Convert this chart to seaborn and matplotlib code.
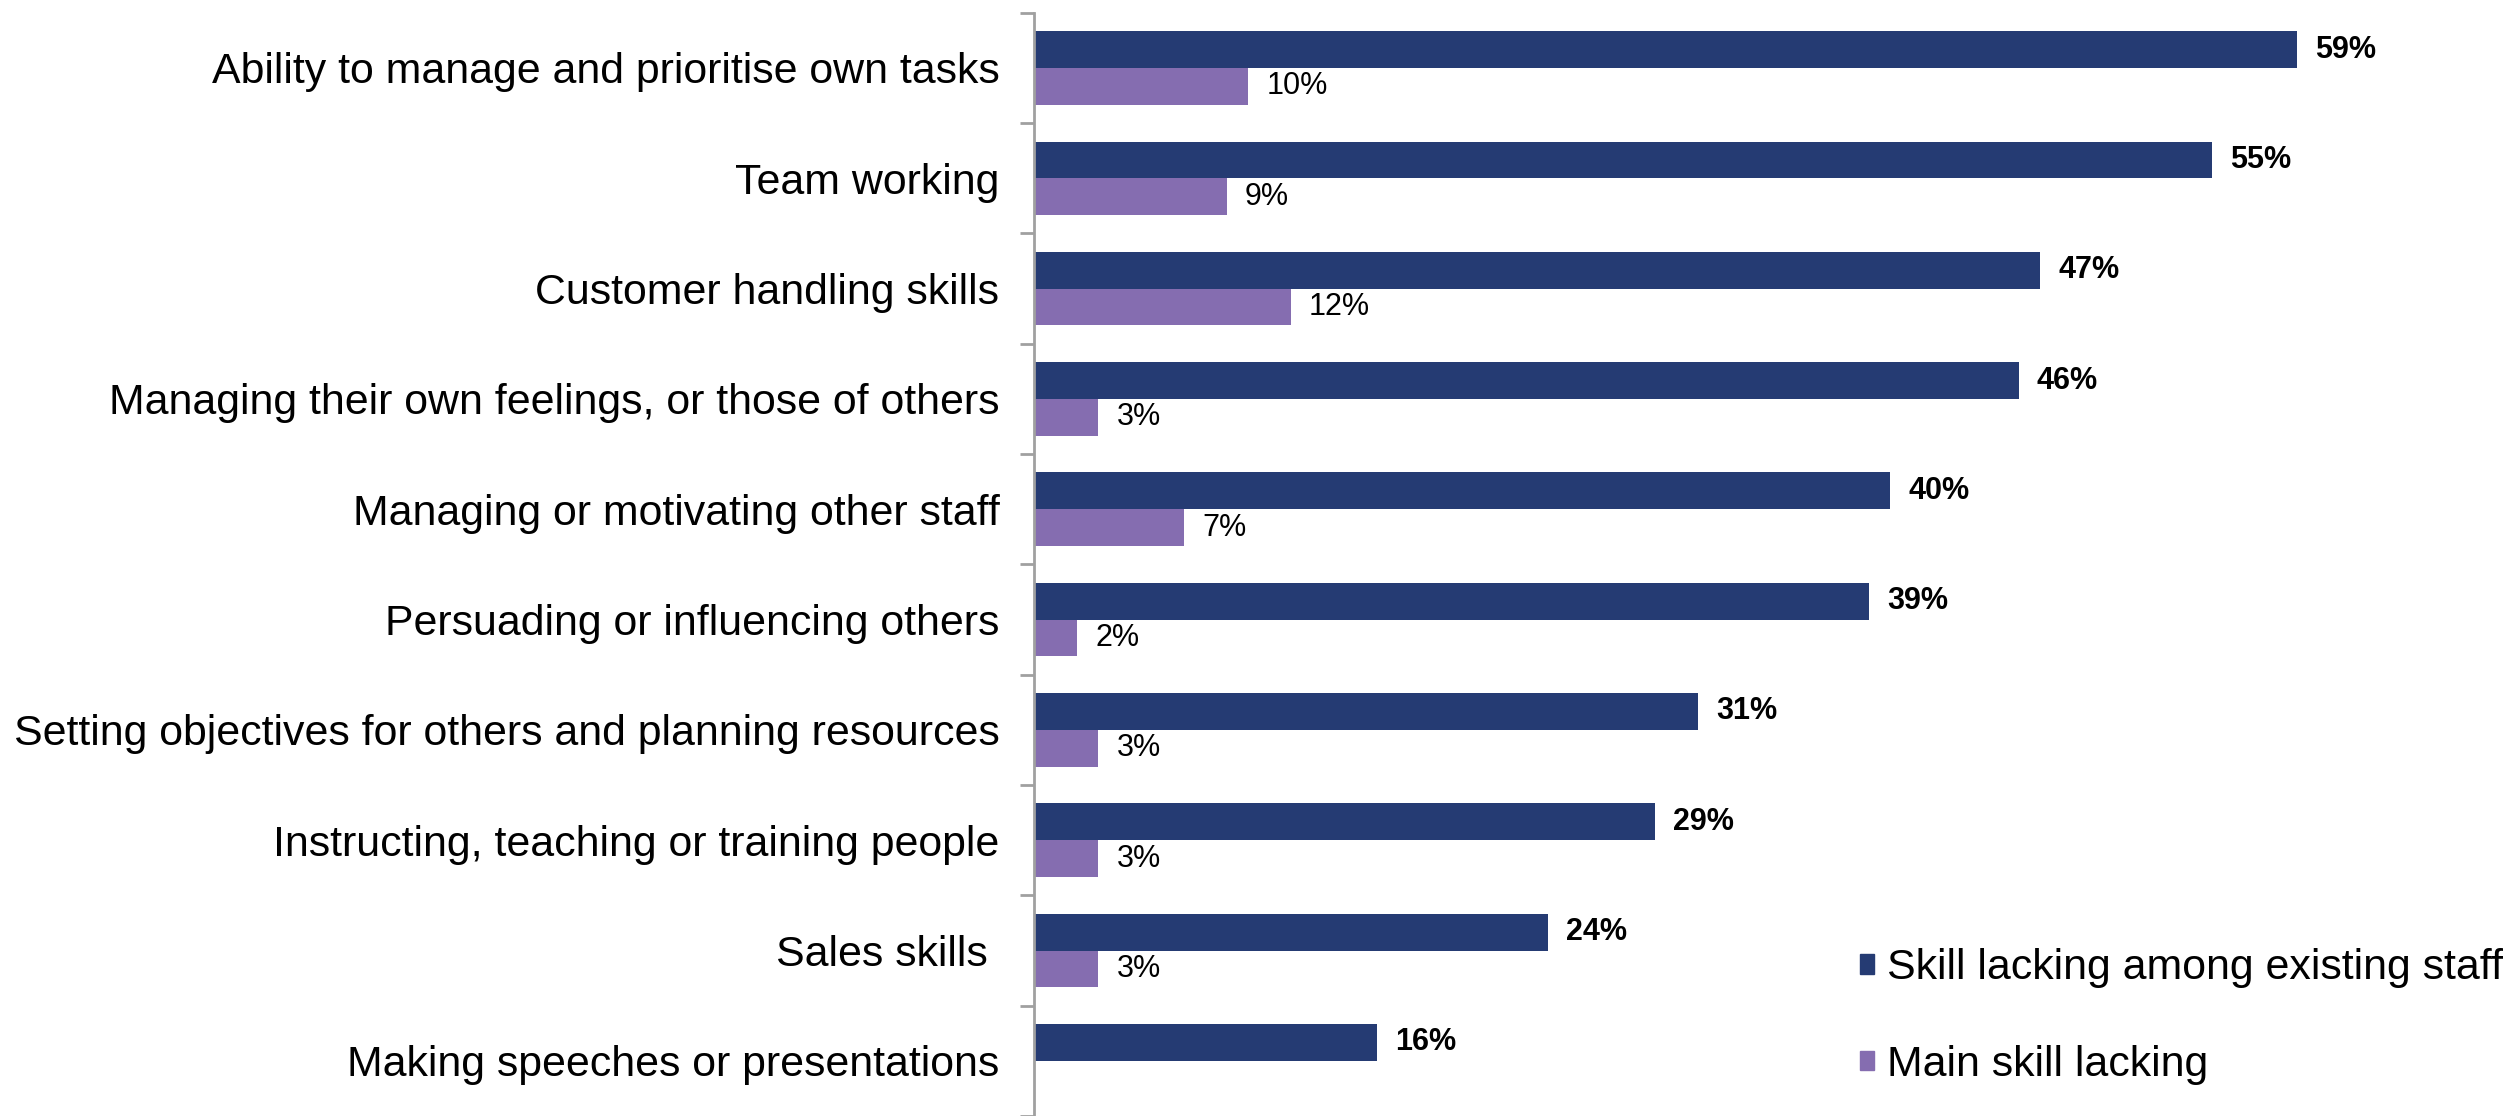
import numpy as np
import pandas as pd
import matplotlib
matplotlib.use('Agg')
import matplotlib.pyplot as plt
import seaborn as sns

# dados
skills = [
    'Ability to manage and prioritise own tasks',
    'Team working',
    'Customer handling skills',
    'Managing their own feelings, or those of others',
    'Managing or motivating other staff',
    'Persuading or influencing others',
    'Setting objectives for others and planning resources',
    'Instructing, teaching or training people',
    'Sales skills ',
    'Making speeches or presentations',
]
lacking_existing = [59, 55, 47, 46, 40, 39, 31, 29, 24, 16]
main_lacking = [10, 9, 12, 3, 7, 2, 3, 3, 3, np.nan]
series = ['Skill lacking among existing staff', 'Main skill lacking']
colors = ['#253B73', '#856DB0']

df = pd.DataFrame({
    'Skill': skills * 2,
    'Value': lacking_existing + main_lacking,
    'Series': [series[0]] * len(skills) + [series[1]] * len(skills),
})

sns.set_theme(style='white')
plt.rcParams['font.family'] = ['Liberation Sans', 'DejaVu Sans']

fig = plt.figure(figsize=(25.07, 11.16), dpi=100)
ax = fig.add_axes([0.4125, 0.0, 0.5875, 0.9885])

sns.barplot(data=df, y='Skill', x='Value', hue='Series', order=skills,
            hue_order=series, palette=colors, orient='h', width=0.667,
            linewidth=0, saturation=1, ax=ax)

ax.set_xlim(0, 68.8)
ax.set_ylim(len(skills) - 0.5, -0.5)

# rótulos de valor
ax.bar_label(ax.containers[0], fmt='%.0f%%', padding=13, fontsize=22,
             fontweight='bold', color='black')
ax.bar_label(ax.containers[1], fmt='%.0f%%', padding=13, fontsize=22,
             color='black')

# eixo y: ticks nas fronteiras das categorias
ax.set_yticks(range(len(skills)))
ax.set_yticklabels(skills, fontsize=30.9, color='black')
ax.tick_params(axis='y', which='major', length=0, pad=25)
ax.set_yticks(np.arange(-0.5, len(skills)), minor=True)
ax.tick_params(axis='y', which='minor', length=10, width=2, color='#A0A0A0',
               direction='out', left=True)
ax.set_xticks([])
ax.set_xlabel('')
ax.set_ylabel('')

for s in ['top', 'right', 'bottom']:
    ax.spines[s].set_visible(False)
ax.spines['left'].set_color('#A0A0A0')
ax.spines['left'].set_linewidth(2)

ax.legend_.remove()
handles = [plt.Rectangle((0, 0), 1, 1, color=c) for c in colors]
fig.legend(handles, series, loc='center left', bbox_to_anchor=(0.742, 0.089),
           bbox_transform=fig.transFigure, frameon=False, fontsize=30.9,
           labelcolor='black', handlelength=0.33, handleheight=0.33,
           handletextpad=0.3, labelspacing=1.32, borderpad=0, borderaxespad=0)

plt.savefig('out.png', dpi=100)
